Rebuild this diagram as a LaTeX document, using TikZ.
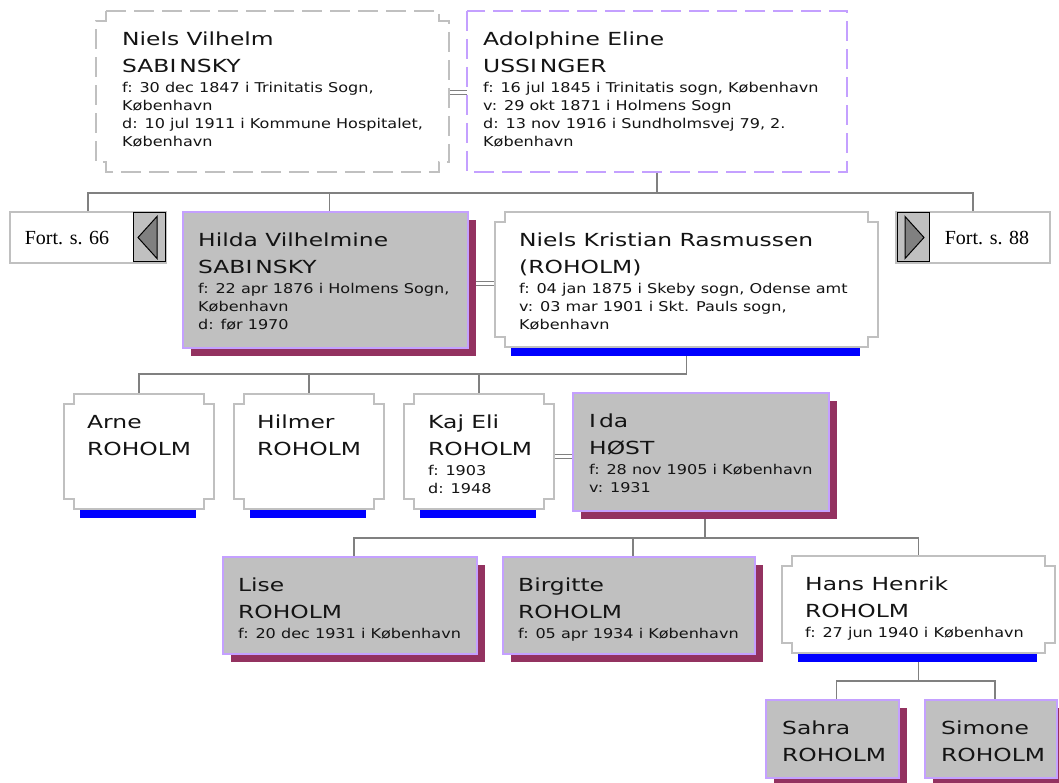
\documentclass[tikz,border=0pt]{standalone}
\usepackage{fontspec}
\usetikzlibrary{calc}
\newfontfamily\namefnt[FakeStretch=1.3]{DejaVu Sans}
\newfontfamily\detfnt[FakeStretch=1.19]{DejaVu Sans}
\newfontfamily\fortfnt{Liberation Serif}
\definecolor{shadowc}{RGB}{147,50,96}
\definecolor{lav}{RGB}{196,160,255}
\definecolor{gfill}{RGB}{192,192,192}
\definecolor{gline}{RGB}{192,192,192}
\definecolor{connc}{RGB}{128,128,128}
\definecolor{barblue}{RGB}{0,0,255}
\definecolor{ink}{RGB}{20,20,20}
\newcommand\NL[1]{\hbox{\vrule height20pt depth7pt width0pt\namefnt\fontsize{18}{21}\selectfont #1}}
\newcommand\DL[1]{\hbox{\vrule height13pt depth5pt width0pt\detfnt\fontsize{13.5}{16}\selectfont #1}}
\newcommand\frm[5]{\node[frame, minimum width=#4pt, minimum height=#5pt] (#1) at (#2,#3) {};}
\newcommand\notchbox[2][]{%
  \draw[notch,#1] ($(#2.north west)+(10,0)$) -- ($(#2.north east)+(-10,0)$) -- ++(0,10) -- ++(10,0)
  -- ($(#2.south east)+(0,-10)$) -- ++(-10,0) -- ++(0,10) -- ($(#2.south west)+(10,0)$)
  -- ++(0,-10) -- ++(-10,0) -- ($(#2.north west)+(0,10)$) -- ++(10,0) -- cycle;}
\newcommand\bbar[1]{\fill[barblue] ($(#1.south west)+(16,1)$) rectangle ($(#1.south east)+(-18,9)$);}
\newcommand\shadowbox[1]{%
  \fill[shadowc] ($(#1.north west)+(8,8)$) rectangle (#1.south east);
  \draw[shbox] (#1.north west) rectangle ($(#1.south east)+(-8,-8)$);}
\newcommand\ptext[4]{\node[txt] (#1) at ($(#2.north west)+(#3,14)$) {\vbox{\offinterlineskip #4}};}
\tikzset{
  conn/.style={draw=connc, line width=1.5pt},
  marr/.style={draw=connc, double=white, double distance=3pt, line width=1pt},
  frame/.style={draw=none, inner sep=0pt, outer sep=0pt, anchor=north west, rectangle},
  notch/.style={draw=gline, line width=1.5pt, fill=white},
  shbox/.style={draw=lav, line width=1.5pt, fill=gfill},
  txt/.style={inner sep=0pt, anchor=north west, text=ink},
  forttxt/.style={inner sep=0pt, text=black, font=\fortfnt\fontsize{20}{24}\selectfont},
  btn/.style={draw=black, line width=1pt, fill=gfill},
  tri/.style={draw=black, line width=1pt, fill=connc, line join=miter}
}
\begin{document}
\begin{tikzpicture}[x=1pt,y=-1pt]
\fill[white] (0,0) rectangle (1059,783);
\useasboundingbox (0,0) rectangle (1059,783);
% frames
\frm{NV}{96}{11}{353}{161}
\frm{AE}{467}{11}{380}{161}
\frm{F66}{10}{212}{156}{51}
\frm{Hilda}{183}{212}{293}{144}
\frm{NK}{495}{212}{383}{135}
\frm{F88}{896}{212}{154}{51}
\frm{Arne}{64}{394}{150}{115}
\frm{Hilmer}{234}{394}{150}{115}
\frm{Kaj}{404}{394}{150}{115}
\frm{Ida}{573}{393}{264}{126}
\frm{Lise}{223}{557}{262}{105}
\frm{Birgitte}{503}{557}{260}{105}
\frm{Hans}{782}{556}{273}{97}
\frm{Sahra}{766}{700}{141}{86}
\frm{Simone}{925}{700}{140}{86}
\coordinate (bus1) at (0,193);
\coordinate (bus2) at (0,374);
\coordinate (bus3) at (0,538);
\coordinate (bus4) at (0,681);
% connectors
\draw[conn] (AE.south) -- (AE.south |- bus1);
\draw[conn] (F66.north) -- (F66.north |- bus1) -- (F88.north |- bus1) -- (F88.north);
\draw[conn] (Hilda.north) -- (Hilda.north |- bus1);
\draw[conn] (NK.south) -- (NK.south |- bus2) -- (Arne.north |- bus2) -- (Arne.north);
\draw[conn] (Hilmer.north) -- (Hilmer.north |- bus2);
\draw[conn] (Kaj.north) -- (Kaj.north |- bus2);
\draw[conn] (Ida.south) -- (Ida.south |- bus3);
\draw[conn] (Lise.north) -- (Lise.north |- bus3) -- (Hans.north |- bus3) -- (Hans.north);
\draw[conn] (Birgitte.north) -- (Birgitte.north |- bus3);
\draw[conn] (Hans.south) -- (Hans.south |- bus4);
\draw[conn] (Sahra.north) -- (Sahra.north |- bus4) -- (Simone.north |- bus4) -- (Simone.north);
\draw[marr] ([yshift=-1pt]NV.east) -- ([yshift=-1pt]AE.west);
\draw[marr] (Hilda.east) -- (Hilda.east -| NK.west);
\draw[marr] (Kaj.east |- Ida.west) -- (Ida.west);
% boxes
\notchbox[dash pattern=on 20pt off 8pt]{NV}
\draw[draw=lav, line width=1.5pt, dash pattern=on 20pt off 8pt] (AE.north west) rectangle (AE.south east);
\draw[draw=gline, line width=1.5pt, fill=white] (F66.north west) rectangle (F66.south east);
\draw[btn] ($(F66.north east)+(-33,1)$) rectangle ($(F66.south east)+(-1,-1)$);
\draw[tri] ($(F66.east)+(-28,0)$) -- ($(F66.east)+(-9,-21)$) -- ($(F66.east)+(-9,21)$) -- cycle;
\draw[draw=gline, line width=1.5pt, fill=white] (F88.north west) rectangle (F88.south east);
\draw[btn] ($(F88.north west)+(1,1)$) rectangle ($(F88.south west)+(33,-1)$);
\draw[tri] ($(F88.west)+(28,0)$) -- ($(F88.west)+(9,-21)$) -- ($(F88.west)+(9,21)$) -- cycle;
\shadowbox{Hilda}
\notchbox{NK}\bbar{NK}
\notchbox{Arne}\bbar{Arne}
\notchbox{Hilmer}\bbar{Hilmer}
\notchbox{Kaj}\bbar{Kaj}
\shadowbox{Ida}
\shadowbox{Lise}
\shadowbox{Birgitte}
\notchbox{Hans}\bbar{Hans}
\shadowbox{Sahra}
\shadowbox{Simone}
% texts
\node[forttxt] (tF66) at (67,238) {Fort. s. 66};
\node[forttxt] (tF88) at (987,238) {Fort. s. 88};
\ptext{tNV}{NV}{26}{\NL{Niels Vilhelm}\NL{SABI\kern3pt NSKY}\DL{f: 30 dec 1847 i Trinitatis Sogn,}\DL{København}\DL{d: 10 jul 1911 i Kommune Hospitalet,}\DL{København}}
\ptext{tAE}{AE}{16}{\NL{Adolphine Eline}\NL{USSI\kern3pt NGER}\DL{f: 16 jul 1845 i Trinitatis sogn, København}\DL{v: 29 okt 1871 i Holmens Sogn}\DL{d: 13 nov 1916 i Sundholmsvej 79, 2.}\DL{København}}
\ptext{tHilda}{Hilda}{15}{\NL{Hilda Vilhelmine}\NL{SABI\kern3pt NSKY}\DL{f: 22 apr 1876 i Holmens Sogn,}\DL{København}\DL{d: før 1970}}
\ptext{tNK}{NK}{24}{\NL{Niels Kristian Rasmussen}\NL{(ROHOLM)}\DL{f: 04 jan 1875 i Skeby sogn, Odense amt}\DL{v: 03 mar 1901 i Skt. Pauls sogn,}\DL{København}}
\ptext{tArne}{Arne}{23}{\NL{Arne}\NL{ROHOLM}}
\ptext{tHilmer}{Hilmer}{23}{\NL{Hilmer}\NL{ROHOLM}}
\ptext{tKaj}{Kaj}{24}{\NL{Kaj Eli}\NL{ROHOLM}\DL{f: 1903}\DL{d: 1948}}
\ptext{tIda}{Ida}{16}{\NL{I\kern3pt da}\NL{HØST}\DL{f: 28 nov 1905 i København}\DL{v: 1931}}
\ptext{tLise}{Lise}{15}{\NL{Lise}\NL{ROHOLM}\DL{f: 20 dec 1931 i København}}
\ptext{tBirgitte}{Birgitte}{15}{\NL{Birgitte}\NL{ROHOLM}\DL{f: 05 apr 1934 i København}}
\ptext{tHans}{Hans}{23}{\NL{Hans Henrik}\NL{ROHOLM}\DL{f: 27 jun 1940 i København}}
\ptext{tSahra}{Sahra}{16}{\NL{Sahra}\NL{ROHOLM}}
\ptext{tSimone}{Simone}{16}{\NL{Simone}\NL{ROHOLM}}
\end{tikzpicture}
\end{document}
